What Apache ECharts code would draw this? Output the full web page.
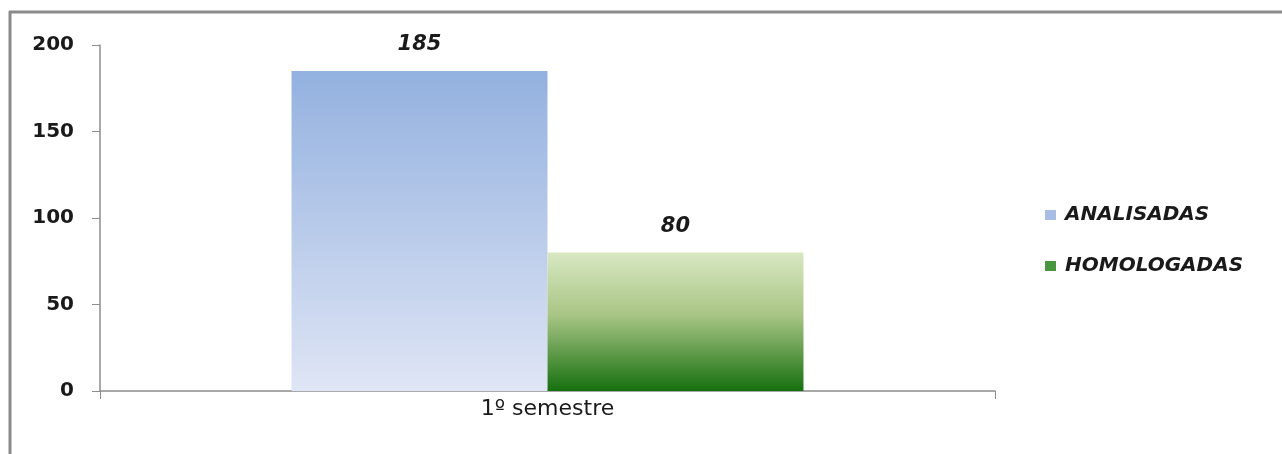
<!DOCTYPE html>
<html>
<head>
<meta charset="utf-8">
<script src="https://cdn.jsdelivr.net/npm/echarts@6/dist/echarts.min.js"></script>
<style>
  html, body { margin: 0; padding: 0; background: #fff; }
  #chart { width: 1282px; height: 454px; }
</style>
</head>
<body>
<div id="chart"></div>
<script>
// Semester summary: analysed vs. approved
const categories = ['1º semestre'];
const seriesNames = ['ANALISADAS', 'HOMOLOGADAS'];
const analisadas = [185];
const homologadas = [80];
const yTicks = [0, 50, 100, 150, 200];

const FONT = 'DejaVu Sans';
const chart = echarts.init(document.getElementById('chart'));

const blueFill = new echarts.graphic.LinearGradient(0, 0, 0, 1, [
  { offset: 0, color: '#93b1df' },
  { offset: 1, color: '#dfe5f5' }
]);
const greenFill = new echarts.graphic.LinearGradient(0, 0, 0, 1, [
  { offset: 0, color: '#d8e8c2' },
  { offset: 0.45, color: '#a9c585' },
  { offset: 1, color: '#16700f' }
]);

const labelStyle = {
  show: true,
  position: 'top',
  distance: 16,
  fontFamily: FONT,
  fontStyle: 'italic',
  fontWeight: 'bold',
  fontSize: 21,
  color: '#1a1a1a'
};

chart.setOption({
  animation: false,
  backgroundColor: '#ffffff',
  grid: { left: 100, right: 287, top: 45, bottom: 63 },
  legend: {
    orient: 'vertical',
    left: 1040,
    top: 200,
    itemGap: 31,
    itemWidth: 11,
    itemHeight: 10,
    icon: 'rect',
    textStyle: {
      fontFamily: FONT,
      fontStyle: 'italic',
      fontWeight: 'bold',
      fontSize: 20,
      color: '#1a1a1a',
      padding: [0, 0, 0, 4]
    },
    data: [
      { name: seriesNames[0], itemStyle: { color: '#a9bde4' } },
      { name: seriesNames[1], itemStyle: { color: '#4a9640' } }
    ]
  },
  xAxis: {
    type: 'category',
    data: categories,
    axisLine: { lineStyle: { color: '#8c8c8c', width: 1.5 } },
    axisTick: { show: true, length: 8, lineStyle: { color: '#8c8c8c' } },
    axisLabel: {
      margin: 7,
      fontFamily: FONT,
      fontSize: 22,
      color: '#1a1a1a'
    }
  },
  yAxis: {
    type: 'value',
    min: yTicks[0],
    max: yTicks[yTicks.length - 1],
    interval: yTicks[1] - yTicks[0],
    splitLine: { show: false },
    axisLine: { show: true, lineStyle: { color: '#8c8c8c', width: 1.5 } },
    axisTick: { show: true, length: 8, lineStyle: { color: '#8c8c8c' } },
    axisLabel: {
      margin: 26,
      fontFamily: FONT,
      fontWeight: 'bold',
      fontSize: 20,
      color: '#1a1a1a'
    }
  },
  series: [
    {
      name: seriesNames[0],
      type: 'bar',
      data: analisadas,
      barGap: '0%',
      barCategoryGap: '42.8%',
      itemStyle: { color: blueFill },
      label: labelStyle
    },
    {
      name: seriesNames[1],
      type: 'bar',
      data: homologadas,
      itemStyle: { color: greenFill },
      label: labelStyle
    }
  ],
  graphic: [
    // chart frame along the top and left edges
    { type: 'line', shape: { x1: 9, y1: 12, x2: 1282, y2: 12 }, style: { stroke: '#8a8a8a', lineWidth: 3 } },
    { type: 'line', shape: { x1: 10, y1: 11, x2: 10, y2: 454 }, style: { stroke: '#8a8a8a', lineWidth: 3 } }
  ]
});
</script>
</body>
</html>
